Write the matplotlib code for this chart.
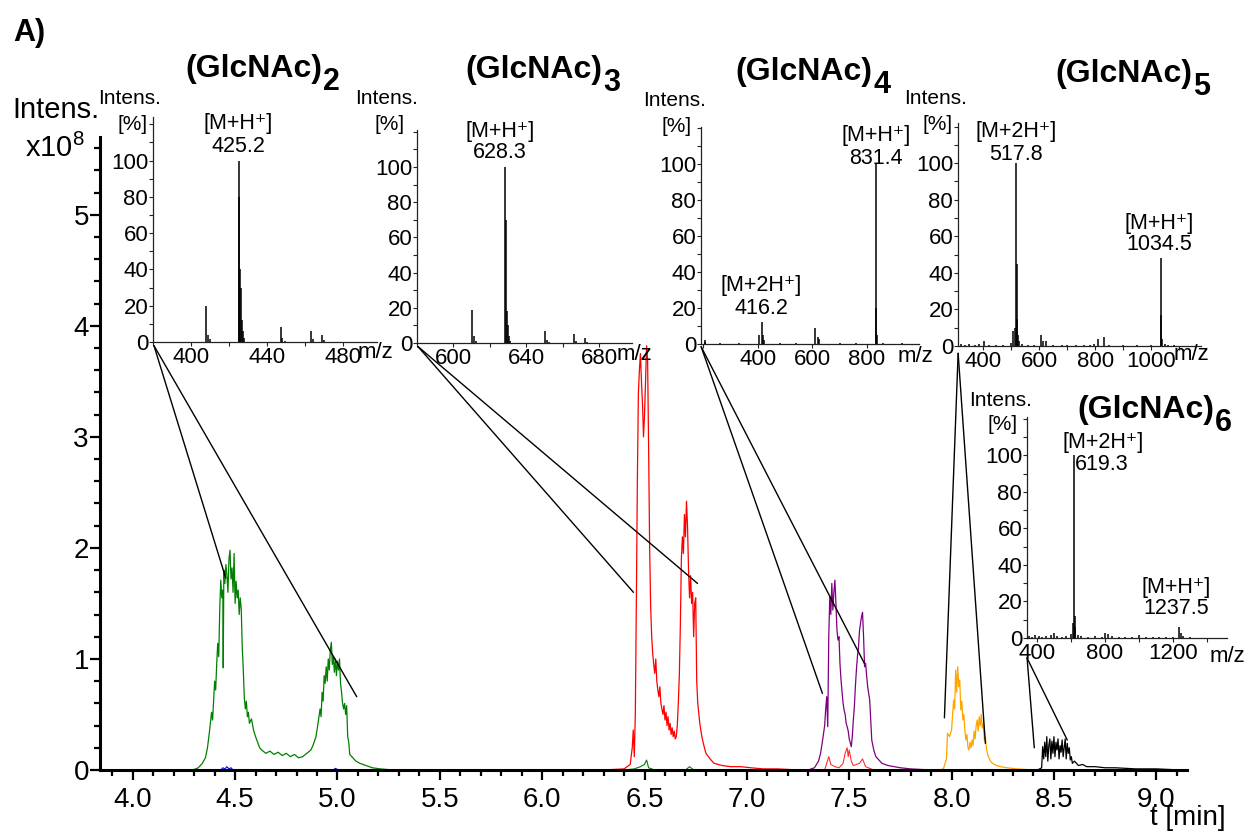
import numpy as np
import matplotlib.pyplot as plt
from matplotlib.patches import ConnectionPatch
from matplotlib.ticker import FixedLocator, MultipleLocator, FuncFormatter

plt.rcParams['font.family'] = ['Liberation Sans', 'DejaVu Sans']
plt.rcParams['mathtext.fontset'] = 'custom'
plt.rcParams['mathtext.rm'] = 'Liberation Sans'
plt.rcParams['mathtext.it'] = 'Liberation Sans:italic'
plt.rcParams['mathtext.bf'] = 'Liberation Sans:bold'

# ---------------- chromatogram traces (t [min], intensity x1e8) ----------------
green_t = [4.28, 4.30, 4.32, 4.34, 4.355, 4.365, 4.375, 4.385, 4.39, 4.395, 4.40, 4.405,
           4.41, 4.415, 4.42, 4.425, 4.43, 4.435, 4.44, 4.442, 4.445, 4.45, 4.455, 4.46,
           4.465, 4.47, 4.475, 4.48, 4.485, 4.49, 4.495, 4.50, 4.505, 4.51, 4.515, 4.52,
           4.525, 4.53, 4.535, 4.54, 4.545, 4.55, 4.555, 4.56, 4.565, 4.57, 4.58, 4.59,
           4.60, 4.61, 4.62, 4.63, 4.65, 4.67, 4.69, 4.71, 4.73, 4.75, 4.77, 4.79, 4.81,
           4.83, 4.85, 4.87, 4.88, 4.895, 4.905, 4.915, 4.92, 4.925, 4.93, 4.935, 4.94,
           4.945, 4.95, 4.955, 4.96, 4.965, 4.97, 4.975, 4.98, 4.985, 4.99, 4.995, 5.00,
           5.005, 5.01, 5.015, 5.02, 5.025, 5.03, 5.035, 5.04, 5.045, 5.05, 5.055, 5.06,
           5.07, 5.08, 5.09, 5.11, 5.14, 5.17, 5.21, 5.27]
green_i = [0.0, 0.005, 0.02, 0.06, 0.11, 0.2, 0.35, 0.52, 0.45, 0.62, 0.8, 0.72,
           0.95, 1.14, 1.02, 1.45, 1.71, 1.55, 1.62, 0.92, 1.8, 1.68, 1.85, 1.75,
           1.6, 1.9, 1.98, 1.72, 1.82, 1.6, 1.95, 1.5, 1.7, 1.55, 1.62, 1.4,
           1.55, 1.45, 1.1, 0.9, 0.65, 0.55, 0.62, 0.48, 0.52, 0.42, 0.46, 0.36,
           0.3, 0.25, 0.2, 0.18, 0.15, 0.17, 0.14, 0.16, 0.13, 0.15, 0.12, 0.14, 0.11,
           0.12, 0.15, 0.18, 0.22, 0.3, 0.42, 0.55, 0.48, 0.7, 0.62, 0.85, 0.78,
           0.93, 0.8, 1.0, 0.9, 1.08, 1.15, 0.95, 1.02, 0.88, 1.0, 0.85, 0.98,
           0.9, 1.0, 0.78, 0.7, 0.6, 0.55, 0.6, 0.5, 0.58, 0.3, 0.25, 0.14,
           0.12, 0.1, 0.08, 0.06, 0.04, 0.02, 0.01, 0.0]

red_t = [6.30, 6.40, 6.43, 6.44, 6.445, 6.45, 6.455, 6.46, 6.465, 6.47, 6.475, 6.48,
         6.485, 6.49, 6.495, 6.50, 6.505, 6.51, 6.515, 6.52, 6.525, 6.53, 6.535, 6.54,
         6.545, 6.55, 6.555, 6.56, 6.565, 6.57, 6.575, 6.58, 6.585, 6.59, 6.595, 6.60,
         6.605, 6.61, 6.615, 6.62, 6.625, 6.63, 6.635, 6.64, 6.645, 6.65, 6.655, 6.66,
         6.665, 6.67, 6.675, 6.68, 6.685, 6.69, 6.695, 6.70, 6.705, 6.71, 6.715, 6.72,
         6.725, 6.73, 6.735, 6.74, 6.745, 6.75, 6.755, 6.76, 6.77, 6.78, 6.79, 6.80,
         6.82, 6.84, 6.86, 6.88, 6.92, 6.97, 7.02, 7.08, 7.15, 7.25]
red_i = [0.0, 0.01, 0.05, 0.2, 0.36, 0.12, 0.5, 1.5, 2.6, 3.4, 3.6, 3.75,
         3.5, 3.3, 3.0, 3.2, 3.5, 3.82, 3.7, 2.9, 2.0, 1.47, 1.2, 1.05,
         0.95, 0.87, 1.0, 0.8, 0.72, 0.66, 0.75, 0.6, 0.55, 0.5, 0.58, 0.45,
         0.52, 0.4, 0.48, 0.36, 0.42, 0.32, 0.38, 0.3, 0.35, 0.28, 0.3, 0.4,
         0.6, 0.85, 1.3, 1.9, 2.1, 1.95, 2.3, 2.1, 2.42, 2.2, 1.8, 1.55,
         1.75, 1.5, 1.6, 1.2, 1.5, 1.55, 0.8, 0.6, 0.42, 0.3, 0.22, 0.15,
         0.1, 0.06, 0.05, 0.04, 0.03, 0.03, 0.02, 0.01, 0.01, 0.0]

red2_t = [7.38, 7.40, 7.41, 7.43, 7.45, 7.47, 7.48, 7.49, 7.495, 7.50, 7.51, 7.52,
          7.55, 7.565, 7.58, 7.62]
red2_i = [0.0, 0.12, 0.05, 0.03, 0.02, 0.06, 0.15, 0.2, 0.12, 0.18, 0.08, 0.04,
          0.06, 0.1, 0.03, 0.0]

purple_t = [7.30, 7.33, 7.35, 7.36, 7.37, 7.38, 7.385, 7.39, 7.395, 7.40, 7.405, 7.41,
            7.415, 7.42, 7.425, 7.43, 7.435, 7.44, 7.445, 7.45, 7.455, 7.46, 7.465,
            7.47, 7.475, 7.48, 7.485, 7.49, 7.495, 7.50, 7.51, 7.515, 7.52, 7.525,
            7.53, 7.535, 7.54, 7.545, 7.55, 7.555, 7.56, 7.565, 7.57, 7.575, 7.58,
            7.585, 7.59, 7.60, 7.605, 7.61, 7.62, 7.63, 7.645, 7.66, 7.69, 7.72,
            7.75, 7.80, 7.90]
purple_i = [0.0, 0.02, 0.08, 0.15, 0.27, 0.4, 0.55, 0.66, 0.39, 1.2, 1.56, 1.4,
            1.68, 1.44, 1.6, 1.71, 1.5, 1.26, 1.17, 1.2, 0.95, 0.81, 0.7,
            0.6, 0.54, 0.5, 0.42, 0.39, 0.35, 0.28, 0.21, 0.3, 0.45, 0.57,
            0.75, 0.9, 1.02, 1.1, 1.25, 1.32, 1.38, 1.42, 1.2, 0.93, 0.96,
            0.85, 0.75, 0.63, 0.45, 0.27, 0.18, 0.12, 0.09, 0.06, 0.04, 0.03,
            0.02, 0.01, 0.0]

orange_t = [7.94, 7.96, 7.975, 7.98, 7.99, 8.00, 8.005, 8.01, 8.015, 8.02, 8.025, 8.03,
            8.035, 8.04, 8.045, 8.05, 8.055, 8.06, 8.065, 8.07, 8.075, 8.08, 8.085,
            8.09, 8.095, 8.10, 8.105, 8.11, 8.115, 8.12, 8.125, 8.13, 8.135, 8.14,
            8.145, 8.15, 8.155, 8.16, 8.165, 8.17, 8.175, 8.18, 8.19, 8.20, 8.22,
            8.24, 8.27, 8.32, 8.40]
orange_i = [0.0, 0.01, 0.1, 0.33, 0.3, 0.36, 0.5, 0.63, 0.55, 0.9, 0.7, 0.93,
            0.75, 0.81, 0.54, 0.62, 0.45, 0.5, 0.35, 0.27, 0.32, 0.2, 0.18,
            0.25, 0.2, 0.27, 0.22, 0.35, 0.28, 0.4, 0.45, 0.35, 0.48, 0.4,
            0.5, 0.38, 0.42, 0.27, 0.3, 0.2, 0.15, 0.12, 0.08, 0.06, 0.04,
            0.03, 0.02, 0.01, 0.0]

black_t = [8.42, 8.44, 8.445, 8.45, 8.455, 8.46, 8.465, 8.47, 8.475, 8.48, 8.485, 8.49,
           8.495, 8.50, 8.505, 8.51, 8.515, 8.52, 8.525, 8.53, 8.535, 8.54, 8.545,
           8.55, 8.555, 8.56, 8.565, 8.57, 8.575, 8.58, 8.585, 8.59, 8.60, 8.62,
           8.64, 8.66, 8.70, 8.75, 8.80, 8.90, 9.00, 9.12]
black_i = [0.0, 0.02, 0.21, 0.1, 0.25, 0.12, 0.3, 0.08, 0.22, 0.28, 0.1, 0.26,
           0.15, 0.3, 0.12, 0.25, 0.18, 0.28, 0.1, 0.22, 0.16, 0.27, 0.12,
           0.2, 0.28, 0.1, 0.24, 0.15, 0.2, 0.09, 0.12, 0.06, 0.08, 0.04,
           0.05, 0.03, 0.03, 0.02, 0.02, 0.01, 0.01, 0.0]

green2_t = [6.40, 6.45, 6.48, 6.50, 6.51, 6.52, 6.55, 6.70, 6.72, 6.74]
green2_i = [0.0, 0.01, 0.03, 0.05, 0.09, 0.02, 0.0, 0.0, 0.03, 0.0]

blue_t = [4.43, 4.44, 4.45, 4.46, 4.47, 4.48, 4.49, 4.98, 4.99, 5.00, 5.01]
blue_i = [0.0, 0.02, 0.01, 0.03, 0.01, 0.02, 0.0, 0.0, 0.015, 0.005, 0.0]

# ---------------- inset mass spectra (m/z, relative intensity %) ----------------
ms2_mz = [407.9, 408.9, 409.9, 425.2, 425.4, 425.7, 426.2, 426.7, 427.2, 428.2,
          447.2, 448.2, 449.5, 463.1, 464.1, 469.1, 470.1]
ms2_int = [20, 4, 1.5, 100, 80, 40, 30, 12, 6, 2, 8, 2, 0.8, 6, 1.5, 4, 1]

ms3_mz = [610.3, 611.3, 612.3, 628.3, 628.6, 629.3, 629.8, 630.3, 631.3,
          650.3, 651.3, 652.5, 666.3, 667.3, 672.3, 673.3]
ms3_int = [19, 4, 1, 100, 70, 18, 10, 4, 1, 7, 1.5, 0.5, 5, 1, 3, 0.6]

ms4_mz = [204, 206, 260, 330, 404, 416.2, 418.5, 421, 480, 540, 609, 619, 625,
          700, 760, 831.4, 834, 837, 860, 930]
ms4_int = [2, 1, 0.5, 0.5, 5, 12, 5, 2, 0.5, 0.4, 9, 4, 3, 0.5, 0.4, 100, 20, 5,
           0.5, 0.3]

ms5_mz = [320, 335, 350, 370, 385, 404, 420, 445, 470, 500, 508, 512, 517.8, 519,
          520.5, 523, 528, 540, 560, 580, 606, 612, 626, 650, 680, 700, 730, 760,
          780, 795, 810, 830, 850, 900, 950, 1000, 1034.5, 1036.5, 1040, 1050,
          1060, 1080]
ms5_int = [1, 0.8, 1, 0.7, 0.9, 3, 0.8, 0.6, 0.8, 1.5, 8, 10, 100, 45,
           15, 6, 3, 1, 0.7, 0.8, 6, 3, 3, 0.8, 0.5, 0.8, 0.6, 0.8,
           0.7, 1, 4, 5, 0.8, 0.6, 0.5, 0.7, 48, 17, 4, 1,
           0.8, 0.4]

ms6_mz = [350, 370, 390, 410, 430, 455, 480, 500, 520, 545, 570, 600, 612, 619.3,
          622, 626, 640, 660, 700, 740, 780, 800, 815, 840, 880, 920, 960, 1000,
          1040, 1080, 1120, 1160, 1200, 1237.5, 1245, 1260, 1300]
ms6_int = [1, 0.8, 1.5, 1, 0.7, 1, 1.5, 2.5, 1, 0.8, 1, 2, 8, 100,
           12, 6, 1.5, 1, 0.8, 1, 0.8, 3, 2, 1, 0.6, 0.8, 0.6, 1.5,
           0.7, 0.6, 0.8, 0.6, 0.8, 6, 3, 1, 0.5]

# zoom connectors: (t, intensity) on the chromatogram for each inset
conn_main = [[(4.454, 1.73), (5.094, 0.66)],
             [(6.446, 1.60), (6.759, 1.68)],
             [(7.369, 0.69), (7.574, 0.96)],
             [(7.965, 0.47), (8.165, 0.24)],
             [(8.404, 0.20), (8.565, 0.27)]]

W, H = 1247, 833


def px(x, y):
    return x / W, 1 - y / H


fig = plt.figure(figsize=(W / 100, H / 100), dpi=100)

# ---------------- main chromatogram ----------------
ax = fig.add_axes([100 / W, 1 - 770 / H, 1087 / W, 633 / H])
ax.plot(green_t, green_i, color='#008000', lw=0.9)
ax.plot(green2_t, green2_i, color='#008000', lw=0.8)
ax.plot(blue_t, blue_i, color='#0000ff', lw=0.8)
ax.plot(red_t, red_i, color='#ff0000', lw=0.9)
ax.plot(red2_t, red2_i, color='#ff3030', lw=0.8)
ax.plot(purple_t, purple_i, color='#800080', lw=0.9)
ax.plot(orange_t, orange_i, color='#ffa500', lw=0.9)
ax.plot(black_t, black_i, color='black', lw=0.9)

ax.set_xlim(3.84, 9.15)
ax.set_ylim(0, 5.7)
for s in ['top', 'right']:
    ax.spines[s].set_visible(False)
for s in ['left', 'bottom']:
    ax.spines[s].set_linewidth(2.2)
ax.set_xticks(np.arange(4.0, 9.01, 0.5))
ax.set_xticklabels(['%.1f' % v for v in np.arange(4.0, 9.01, 0.5)])
ax.xaxis.set_minor_locator(MultipleLocator(0.1))
ax.set_yticks([0, 1, 2, 3, 4, 5])
ax.yaxis.set_minor_locator(MultipleLocator(0.2))
ax.tick_params(which='major', direction='out', length=7, width=1.6, labelsize=20)
ax.tick_params(which='minor', direction='out', length=4, width=1.6)
ax.tick_params(axis='y', pad=1)
ax.tick_params(axis='x', pad=5)

fig.text(*px(13, 41), 'A)', fontsize=22, fontweight='bold', ha='left', va='baseline')
fig.text(*px(12, 118), 'Intens.', fontsize=21, ha='left', va='baseline')
fig.text(*px(25, 157), 'x10$^8$', fontsize=21, ha='left', va='baseline')
fig.text(*px(1150, 825), 't [min]', fontsize=20, ha='left', va='baseline')

# ---------------- insets ----------------
insets = [
    dict(box=(153, 117, 377, 342), xlim=(380, 498), ylim=(0, 124),
         ticks=np.arange(380, 499, 20), labels=[400, 440, 480],
         mz=ms2_mz, inten=ms2_int, int_xy=(130, 99), pct_xy=(148, 125), mz_xy=(358, 353)),
    dict(box=(417, 130, 632, 343), xlim=(580, 698), ylim=(0, 121),
         ticks=np.arange(580, 699, 20), labels=[600, 640, 680],
         mz=ms3_mz, inten=ms3_int, int_xy=(387, 99), pct_xy=(405, 125), mz_xy=(617, 355)),
    dict(box=(701, 127, 919, 344), xlim=(191, 991), ylim=(0, 120.5),
         ticks=[200, 400, 600, 800], labels=[400, 600, 800],
         mz=ms4_mz, inten=ms4_int, int_xy=(675, 100), pct_xy=(692, 127), mz_xy=(898, 357)),
    dict(box=(958, 123, 1201, 346), xlim=(310, 1178), ylim=(0, 122),
         ticks=np.arange(400, 1101, 100), labels=[400, 600, 800, 1000],
         mz=ms5_mz, inten=ms5_int, int_xy=(936, 98), pct_xy=(953, 125), mz_xy=(1174, 355)),
    dict(box=(1027, 417, 1227, 638), xlim=(341, 1518), ylim=(0, 121),
         ticks=np.arange(400, 1401, 200), labels=[400, 800, 1200],
         mz=ms6_mz, inten=ms6_int, int_xy=(1001, 400), pct_xy=(1018, 425), mz_xy=(1210, 657)),
]
conn_inset_y = [-2, -2, -1.5, -4, -11]

inset_axes = []
for k, d in enumerate(insets):
    x0, y0, x1, y1 = d['box']
    ia = fig.add_axes([x0 / W, 1 - y1 / H, (x1 - x0) / W, (y1 - y0) / H])
    ia.set_facecolor('none')
    ia.vlines(d['mz'], 0, d['inten'], color='black', lw=1.1)
    ia.set_xlim(*d['xlim'])
    ia.set_ylim(*d['ylim'])
    for s in ['top', 'right']:
        ia.spines[s].set_visible(False)
    for s in ['left', 'bottom']:
        ia.spines[s].set_linewidth(0.9)
        ia.spines[s].set_color('#222222')
    ia.xaxis.set_major_locator(FixedLocator(list(d['ticks'])))
    labs = d['labels']
    ia.xaxis.set_major_formatter(FuncFormatter(
        lambda v, p, labs=labs: '%d' % v if int(round(v)) in labs else ''))
    ia.yaxis.set_major_locator(FixedLocator(list(range(0, 121, 10))))
    ia.yaxis.set_major_formatter(FuncFormatter(
        lambda v, p: '%d' % v if int(round(v)) % 20 == 0 and v <= 100 else ''))
    ia.tick_params(direction='out', length=3, width=0.8, labelsize=16, pad=0.5,
                   color='#222222')
    fig.text(*px(*d['int_xy']), 'Intens.', fontsize=15, ha='center', va='center')
    fig.text(*px(*d['pct_xy']), '[%]', fontsize=15, ha='right', va='center')
    fig.text(*px(*d['mz_xy']), 'm/z', fontsize=16, ha='left', va='center')
    inset_axes.append(ia)

    for pt in conn_main[k]:
        cp = ConnectionPatch(xyA=(d['xlim'][0] + 0.5, conn_inset_y[k]), coordsA=ia.transData,
                             xyB=pt, coordsB=ax.transData, color='black', lw=1.0)
        fig.add_artist(cp)

# peak annotations
peak_labels = [
    ('[M+H⁺]', 238, 124), ('425.2', 238, 146),
    ('[M+H⁺]', 500, 131), ('628.3', 500, 152),
    ('[M+H⁺]', 876, 135), ('831.4', 876, 158),
    ('[M+2H⁺]', 761, 285), ('416.2', 761, 308),
    ('[M+2H⁺]', 1016, 132), ('517.8', 1016, 155),
    ('[M+H⁺]', 1159, 223), ('1034.5', 1159, 245),
    ('[M+2H⁺]', 1103, 443), ('619.3', 1102, 465),
    ('[M+H⁺]', 1176, 587), ('1237.5', 1176, 609),
]
for s, x, y in peak_labels:
    fig.text(*px(x, y), s, fontsize=15.5, ha='center', va='center')

# compound titles with large subscripts
titles = [(185, 77, '2'), (465, 78, '3'), (735, 80, '4'), (1055, 82, '5'), (1077, 418, '6')]
renderer = fig.canvas.get_renderer()
for lx, by, sub in titles:
    t = fig.text(*px(lx, by), '(GlcNAc)', fontsize=23, fontweight='bold',
                 ha='left', va='baseline')
    bb = t.get_window_extent(renderer)
    fig.text((bb.x1 + 1) / W, 1 - (by + 13) / H, sub, fontsize=22, fontweight='bold',
             ha='left', va='baseline')

fig.savefig('out.png', dpi=100)
